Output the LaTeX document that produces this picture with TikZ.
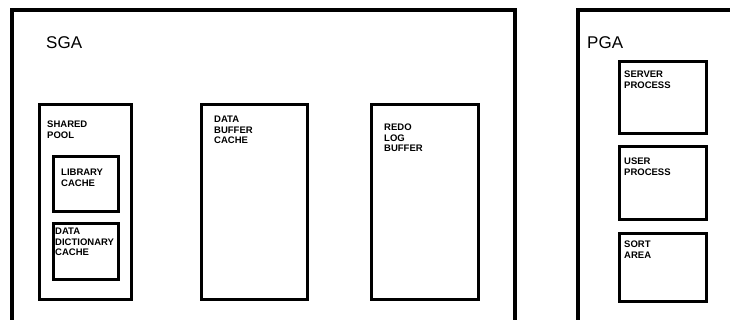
\documentclass[tikz,border=0pt]{standalone}
\usepackage{fontspec}
\setmainfont{Liberation Sans}
\begin{document}
\begin{tikzpicture}[x=1pt, y=-1pt,
  every node/.style={font=\bfseries\footnotesize},
  area/.style={draw, line width=3.2pt, anchor=north west, inner sep=0pt},
  lbl/.style={anchor=north west, align=left, inner sep=0pt, font=\bfseries\fontsize{9.5}{10.5}\selectfont},
  big/.style={anchor=north west, inner sep=0pt, font=\fontsize{17}{17}\selectfont}]
  \useasboundingbox (0,0) rectangle (730,320);

  % outer memory areas, open at the picture edge
  \draw[line width=3.2pt] (12,322) -- (12,10) -- (515,10) -- (515,322);
  \draw[line width=3.2pt] (578,322) -- (578,10) -- (732,10);
  \node[big] (sga) at (46,36) {SGA};
  \node[big] (pga) at (587,36) {PGA};

  % SGA parts
  \node[area, minimum width=92, minimum height=195] (shpool) at (38,103) {};
  \node[lbl] at ([shift={(9,18)}]shpool.north west) {SHARED\\POOL};
  \node[area, minimum width=65, minimum height=55] (libcache) at (52,155) {};
  \node[lbl] at ([shift={(9,14)}]libcache.north west) {LIBRARY\\CACHE};
  \node[area, minimum width=65, minimum height=56] (dictcache) at (52,222) {};
  \node[lbl] at ([shift={(3,6)}]dictcache.north west) {DATA\\DICTIONARY\\CACHE};

  \node[area, minimum width=106, minimum height=195] (bufcache) at (200,103) {};
  \node[lbl] at ([shift={(14,13)}]bufcache.north west) {DATA\\BUFFER\\CACHE};
  \node[area, minimum width=107, minimum height=195] (redobuf) at (370,103) {};
  \node[lbl] at ([shift={(14,21)}]redobuf.north west) {REDO\\LOG\\BUFFER};

  % PGA parts
  \node[area, minimum width=87, minimum height=72] (srvproc) at (618,60) {};
  \node[lbl] at ([shift={(6,11)}]srvproc.north west) {SERVER\\PROCESS};
  \node[area, minimum width=87, minimum height=73] (usrproc) at (618,145) {};
  \node[lbl] at ([shift={(6,13)}]usrproc.north west) {USER\\PROCESS};
  \node[area, minimum width=87, minimum height=68] (sortarea) at (618,232) {};
  \node[lbl] at ([shift={(6,9)}]sortarea.north west) {SORT\\AREA};
\end{tikzpicture}
\end{document}
